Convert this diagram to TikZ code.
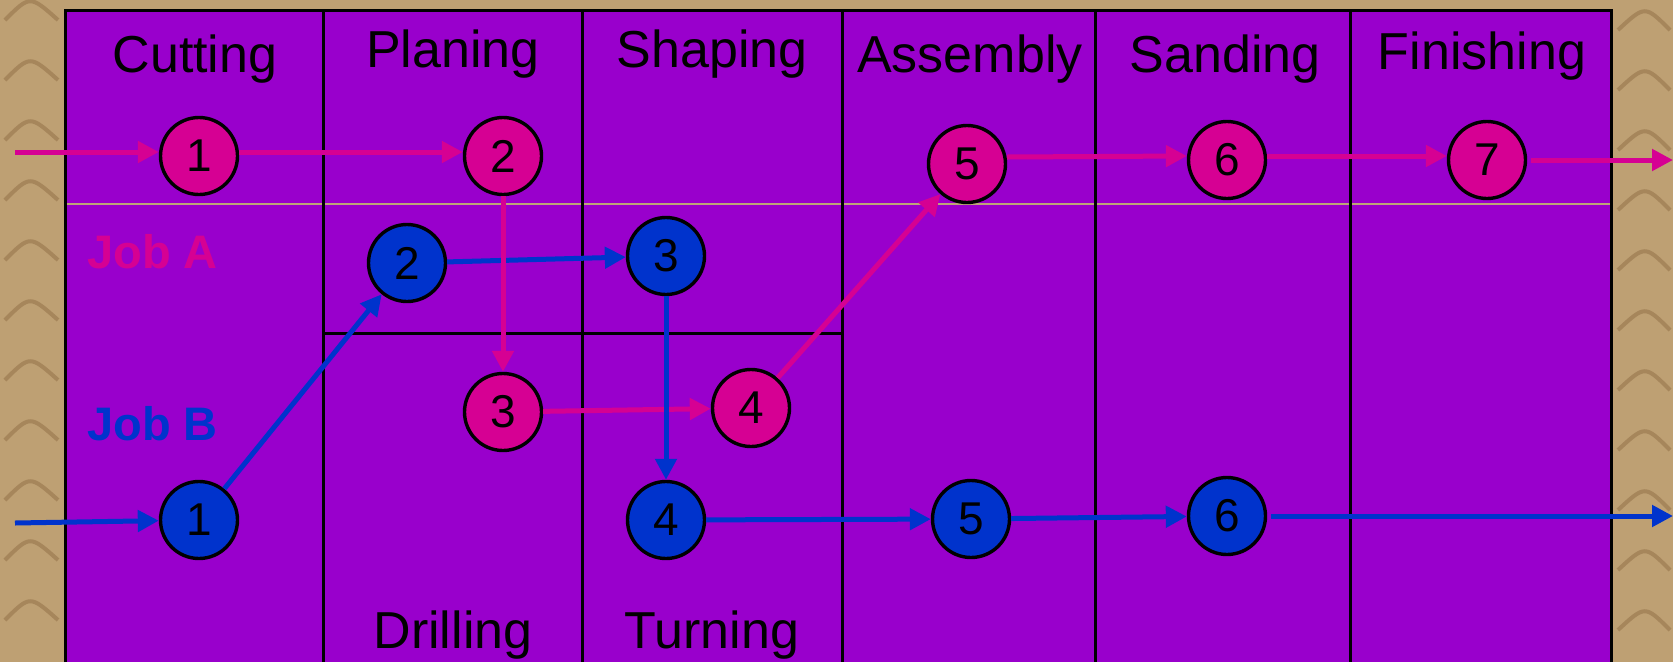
\documentclass[tikz,border=0pt]{standalone}
\usepackage{fontspec}
\setmainfont{Liberation Sans}
\usetikzlibrary{arrows.meta,shapes.geometric}
\definecolor{bgtan}{RGB}{190,160,115}
\definecolor{bgdark}{RGB}{130,95,55}
\definecolor{purp}{RGB}{153,0,204}
\definecolor{jobpink}{RGB}{214,0,147}
\definecolor{jobblue}{RGB}{0,51,204}
\definecolor{seam}{RGB}{190,165,120}
\begin{document}
\begin{tikzpicture}[x=1pt,y=-1pt,
  jobnode/.style={circle, draw=black, line width=3.4pt, minimum size=77pt, inner sep=0pt, font=\fontsize{46}{46}\selectfont},
  anode/.style={jobnode, fill=jobpink},
  bnode/.style={jobnode, fill=jobblue},
  aarrow/.style={draw=jobpink, line width=5pt, -{Triangle[length=21pt,width=21pt]}},
  barrow/.style={draw=jobblue, line width=5pt, -{Triangle[length=21pt,width=21pt]}},
  dept/.style={anchor=base, font=\fontsize{52}{52}\selectfont, inner sep=0pt},
  joblabel/.style={anchor=base west, font=\fontsize{47}{47}\selectfont\bfseries, inner sep=0pt},
  gridline/.style={line width=3pt, draw=black}]
\useasboundingbox (0,0) rectangle (1673,662);
% textured background approximation
\fill[bgtan] (0,0) rectangle (1673,662);
\foreach \yy in {20,80,...,660} {
  \draw[bgdark, line width=4pt, opacity=0.4] (5,\yy) .. controls (30,\yy-25) .. (58,\yy);
  \draw[bgdark, line width=4pt, opacity=0.4] (1618,\yy+10) .. controls (1645,\yy-15) .. (1670,\yy+10);
}
% purple panel
\fill[purp] (65,10) rectangle (1611,662);
\draw[seam, line width=1.5pt] (65,204) -- (1611,204);
\draw[gridline] (65,662) -- (65,10) -- (1611,10) -- (1611,662);
\foreach \xx in {323,582,842,1095,1350} { \draw[gridline] (\xx,10) -- (\xx,662); }
\draw[gridline] (323,333) -- (842,333);
% labels
\node[dept] (lcut) at (195,72) {Cutting};
\node[dept] (lplan) at (453,67) {Planing};
\node[dept] (lshap) at (712,67) {Shaping};
\node[dept] (lass) at (970,72) {Assembly};
\node[dept] (lsand) at (1225,72) {Sanding};
\node[dept] (lfin) at (1482,69) {Finishing};
\node[dept] (ldril) at (453,648) {Drilling};
\node[dept] (lturn) at (712,648) {Turning};
\node[joblabel, text=jobpink] (ljA) at (87,268) {Job A};
\node[joblabel, text=jobblue] (ljB) at (87,440) {Job B};
% nodes
\node[anode] (A1) at (199,156) {1};
\node[anode] (A2) at (503,156) {2};
\node[anode] (A3) at (503,412) {3};
\node[anode] (A4) at (751,408) {4};
\node[anode] (A5) at (967,164) {5};
\node[anode] (A6) at (1227,160) {6};
\node[anode] (A7) at (1487,160) {7};
\node[bnode] (B1) at (199,520) {1};
\node[bnode] (B2) at (407,263) {2};
\node[bnode] (B3) at (666,256) {3};
\node[bnode] (B4) at (666,520) {4};
\node[bnode] (B5) at (971,519) {5};
\node[bnode] (B6) at (1227,516) {6};
\coordinate (Ain) at (15,152);
\coordinate (Aout) at (1673,160);
\coordinate (Bin) at (15,523);
\coordinate (Bout) at (1673,516);
% connectors
\draw[aarrow] (Ain) -- ([yshift=4pt]A1.west);
\draw[aarrow] ([yshift=4pt]A1.east) -- ([yshift=4pt]A2.west);
\draw[barrow] (Bin) -- (B1);
\draw[barrow] (B1) -- (B2);
\draw[barrow] (B2) -- (B3);
\draw[aarrow] (A2) -- (A3);
\draw[aarrow] (A3) -- (A4);
\draw[barrow] (B3) -- (B4);
\draw[aarrow] (A4) -- (A5);
\draw[aarrow] ([yshift=7pt]A5.east) -- ([yshift=4pt]A6.west);
\draw[aarrow] ([yshift=4pt]A6.east) -- ([yshift=4pt]A7.west);
\draw[aarrow, shorten <=4pt] (A7) -- (Aout);
\draw[barrow] (B4) -- (B5);
\draw[barrow] (B5) -- (B6);
\draw[barrow, shorten <=4pt] (B6) -- (Bout);
\end{tikzpicture}
\end{document}
